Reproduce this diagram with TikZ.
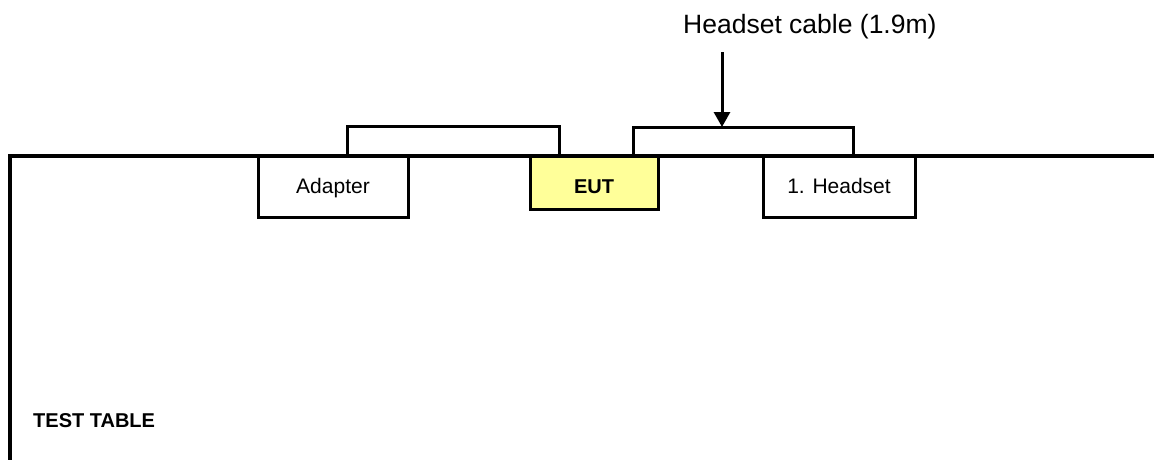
\documentclass[tikz,border=0pt]{standalone}
\usepackage{fontspec}
\setmainfont{Liberation Sans}
\usetikzlibrary{arrows.meta}
\definecolor{eutyellow}{HTML}{FFFF99}
\begin{document}
\begin{tikzpicture}[x=1pt,y=-1pt,
  unit/.style={draw=black,line width=3pt,fill=white,minimum width=150pt,minimum height=61pt,inner sep=0pt,text height=15.5pt,text depth=2.5pt,font=\fontsize{21}{25}\selectfont},
  cbl/.style={draw=black,line width=3pt}]
\useasboundingbox (0,0) rectangle (1154,459);
\node[unit] (adapter) at (333,186.5) {Adapter};
\node[unit,fill=eutyellow,minimum width=128pt,minimum height=53pt,text height=22pt,text depth=1pt,font=\fontsize{20}{24}\selectfont\bfseries] (eut) at (594,182.5) {EUT};
\node[unit,minimum width=152pt] (headset) at (839,186.5) {1. Headset};
\draw[line width=4pt] (10,462) -- (10,156) -- (1158,156);
\node[anchor=base west,inner sep=0pt,font=\fontsize{20}{24}\selectfont\bfseries] (tbl) at (33,427) {TEST TABLE};
\node[anchor=base west,inner sep=0pt,font=\fontsize{26.5}{30}\selectfont] (cbllbl) at (683,33) {Headset cable (1.9m)};
% cables
\coordinate (c1a) at (347,156);
\coordinate (c1b) at (559,156);
\coordinate (c2a) at (633,156);
\coordinate (c2b) at (853,156);
\draw[cbl] (c1a) -- ++(0,-30) -| (c1b);
\draw[cbl] (c2a) -- ++(0,-29) -| (c2b);
\coordinate (hctop) at (722,52);
\coordinate (hc) at (722,127);
\draw[line width=3pt,-{Triangle[length=15pt,width=16pt]}] (hctop) -- (hc);
\end{tikzpicture}
\end{document}
